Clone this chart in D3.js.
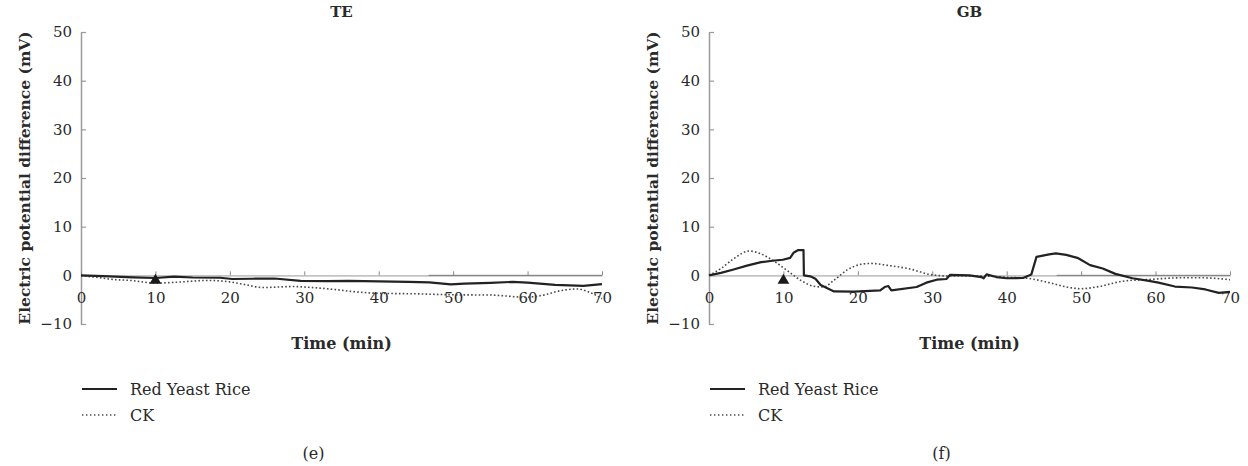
<!DOCTYPE html>
<html>
<head>
<meta charset="utf-8">
<script src="https://cdn.jsdelivr.net/npm/d3@7"></script>
<style>
  html, body { margin: 0; padding: 0; background: #fff; }
  svg { display: block; }
  text { font-family: "DejaVu Serif", "Liberation Serif", serif; fill: #2a2a2a; }
</style>
</head>
<body>
<svg id="chart" width="1248" height="466"></svg>
<script>
// ---------- DATA ----------
const panelTitles = ["TE", "GB"];
const panelLetters = ["(e)", "(f)"];
const xTicks = [0, 10, 20, 30, 40, 50, 60, 70];
const yTicks = [-10, 0, 10, 20, 30, 40, 50];
const arrowTime = [10];
const seriesNames = ["Red Yeast Rice", "CK"];

// TE panel
const teRYR = [[0,0],[3,-0.15],[7,-0.4],[10,-0.55],[12.5,-0.25],[15,-0.45],[18.7,-0.5],[20.3,-0.75],
  [23,-0.7],[26,-0.65],[29.5,-1.15],[33,-1.2],[36,-1.15],[40,-1.25],[44,-1.35],[46.8,-1.45],
  [49.7,-1.85],[51.5,-1.7],[55,-1.55],[58,-1.35],[60,-1.5],[63.7,-1.95],[67.5,-2.15],[70,-1.8]];
const teCK = [[0,-0.1],[2,-0.4],[4,-0.8],[7,-1.1],[10,-1.6],[13,-1.4],[17,-1.05],[20,-1.35],
  [22,-1.9],[24.5,-2.5],[28.5,-2.3],[31,-2.5],[34,-2.9],[37,-3.4],[40,-3.7],[45,-3.8],[50,-4.0],
  [55,-4.05],[59.8,-4.5],[62,-4.1],[64.6,-3.1],[66.7,-2.8],[68.5,-3.6],[70,-4.8]];

// GB panel
const gbRYR = [[0,0],[1.6,0.5],[3.3,1.2],[5.1,2.0],[7,2.7],[8.5,3.0],[9.9,3.2],[10.9,3.6],[11.4,4.7],
  [12,5.2],[12.7,5.2],[12.75,0],[13.6,-0.2],[14.3,-0.7],[15,-2.0],[16.8,-3.3],[19.5,-3.35],[23,-3.1],
  [23.6,-2.4],[24.1,-2.2],[24.5,-3.1],[27.9,-2.4],[29.2,-1.5],[30.6,-0.9],[31.9,-0.75],[32.4,0.1],
  [35,0],[36.6,-0.35],[36.9,-0.6],[37.3,0.2],[38.6,-0.35],[40,-0.6],[42.2,-0.55],[43.3,0.15],
  [44,3.8],[45.7,4.3],[46.6,4.5],[48,4.2],[49.5,3.6],[51.2,2.1],[52.9,1.4],[54.6,0.3],[56.9,-0.6],
  [59.1,-1.15],[60.4,-1.5],[62.6,-2.3],[64.9,-2.5],[66.7,-2.9],[68.5,-3.6],[70,-3.4]];
const gbCK = [[0,0],[1.6,1.4],[3.3,3.4],[5.4,5.0],[6.9,4.45],[8.7,2.95],[10.5,1.0],[12.3,-1.0],
  [14.1,-2.25],[15.4,-2.4],[16.8,-1.0],[18.6,1.15],[20.4,2.25],[21.7,2.45],[24,2.05],[27,1.3],
  [29.8,0.15],[32.4,-0.15],[36.9,-0.15],[40,-0.4],[42.7,-0.6],[45.7,-1.5],[48.4,-2.5],[50,-2.75],
  [52.4,-2.3],[55.6,-1.2],[59.1,-0.85],[63.6,-0.5],[66,-0.5],[70,-0.9]];

const panels = [
  { title: panelTitles[0], letter: panelLetters[0], ryr: teRYR, ck: teCK, left: 81 },
  { title: panelTitles[1], letter: panelLetters[1], ryr: gbRYR, ck: gbCK, left: 709 }
];

// ---------- DRAW ----------
const svg = d3.select("#chart");
const plotW = 521;
const yTop = 32, yBot = 324;

panels.forEach(p => {
  const g = svg.append("g").attr("transform", `translate(${p.left},0)`);
  const x = d3.scaleLinear().domain([0, 70]).range([0, plotW]);
  const y = d3.scaleLinear().domain([-10, 50]).range([yBot, yTop]);

  // y axis
  const yAx = g.append("g")
    .call(d3.axisLeft(y).tickValues(yTicks).tickSizeInner(-5).tickSizeOuter(0).tickPadding(9)
      .tickFormat(d => d < 0 ? "\u2212" + Math.abs(d) : d));
  yAx.select(".domain").attr("stroke", "#9a9a9a").attr("stroke-width", 1.5);
  yAx.selectAll(".tick line").attr("stroke", "#9a9a9a").attr("stroke-width", 1.2);
  yAx.selectAll(".tick text").attr("font-size", 15).attr("font-family", "DejaVu Serif").attr("fill", "#2a2a2a");

  // x axis at zero
  const xAx = g.append("g").attr("transform", `translate(0,${y(0)})`)
    .call(d3.axisBottom(x).tickValues(xTicks).tickSizeInner(-4).tickSizeOuter(0).tickPadding(17));
  xAx.select(".domain").attr("stroke", "#c4c4c4").attr("stroke-width", 1.6);
  xAx.selectAll(".tick line").attr("stroke", "#8a8a8a").attr("stroke-width", 1);
  xAx.selectAll(".tick text").attr("font-size", 15).attr("font-family", "DejaVu Serif").attr("fill", "#2a2a2a");
  // darker right part of the zero line
  g.append("line")
    .attr("x1", x(46.7)).attr("x2", x(70))
    .attr("y1", y(0)).attr("y2", y(0))
    .attr("stroke", "#7a7a7a").attr("stroke-width", 1);

  // lines
  const lineLin = d3.line().x(d => x(d[0])).y(d => y(d[1]));
  const lineSmooth = d3.line().x(d => x(d[0])).y(d => y(d[1])).curve(d3.curveMonotoneX);

  g.append("path").datum(p.ck).attr("d", lineSmooth)
    .attr("fill", "none").attr("stroke", "#4a4a4a").attr("stroke-width", 1.6)
    .attr("stroke-dasharray", "1.6,2.2");
  g.append("path").datum(p.ryr).attr("d", lineLin)
    .attr("fill", "none").attr("stroke", "#222").attr("stroke-width", 2.2)
    .attr("stroke-linejoin", "round");

  // treatment marker
  g.selectAll("path.arrow").data(arrowTime).enter().append("path")
    .attr("class", "arrow")
    .attr("d", d3.symbol(d3.symbolTriangle, 60))
    .attr("transform", d => `translate(${x(d)},${y(-1.05)})`)
    .attr("fill", "#1a1a1a");

  // titles
  g.append("text").attr("x", plotW / 2).attr("y", 17)
    .attr("text-anchor", "middle").attr("font-weight", "bold").attr("font-size", 15)
    .text(p.title);
  g.append("text").attr("x", plotW / 2).attr("y", 349)
    .attr("text-anchor", "middle").attr("font-weight", "bold").attr("font-size", 16)
    .text("Time (min)");
  g.append("text")
    .attr("transform", `translate(-51,${(yTop + yBot) / 2}) rotate(-90)`)
    .attr("text-anchor", "middle").attr("font-weight", "bold").attr("font-size", 15.5)
    .text("Electric potential difference (mV)");

  // legend
  const leg = g.append("g").attr("transform", "translate(1,0)");
  seriesNames.forEach((name, i) => {
    const ly = 389 + i * 26;
    leg.append("line").attr("x1", 0).attr("x2", 35).attr("y1", ly).attr("y2", ly)
      .attr("stroke", i === 0 ? "#222" : "#4a4a4a")
      .attr("stroke-width", i === 0 ? 2 : 1.4)
      .attr("stroke-dasharray", i === 0 ? null : "1.4,2.6");
    leg.append("text").attr("x", 48).attr("y", ly).attr("dy", "0.35em")
      .attr("font-size", 16).text(name);
  });

  // panel letter
  g.append("text").attr("x", plotW / 2 - 28).attr("y", 453).attr("dy", "0.35em")
    .attr("text-anchor", "middle").attr("font-size", 16).text(p.letter);
});
</script>
</body>
</html>
